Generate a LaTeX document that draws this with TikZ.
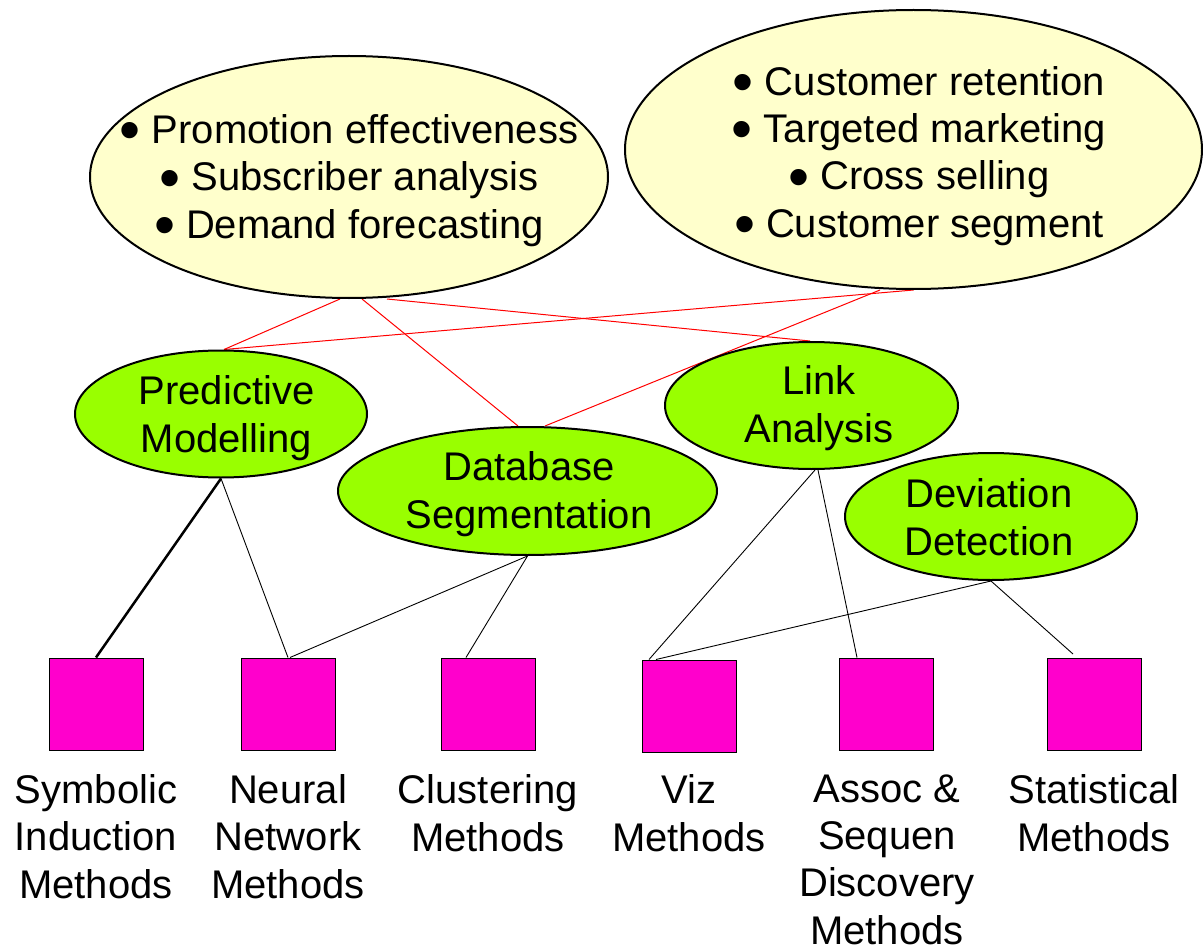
\documentclass[tikz,border=0pt]{standalone}
\usepackage{fontspec}
\setmainfont{Liberation Sans}
\usetikzlibrary{shapes.geometric,backgrounds}
\definecolor{lyellow}{HTML}{FFFFCC}
\definecolor{lgreen}{HTML}{99FF00}
\definecolor{mag}{HTML}{FF00CC}
\newcommand{\bul}{\smash{\raisebox{-7.5pt}{\scalebox{1.5}{•}}}\hspace{11pt}}
\begin{document}
\begin{tikzpicture}[x=1pt,y=-1pt,
  bigell/.style={ellipse, draw, line width=2pt, fill=lyellow, inner sep=0pt},
  smell/.style={ellipse, draw, line width=2pt, fill=lgreen, inner sep=0pt, minimum width=292pt, minimum height=127pt},
  sq/.style={rectangle, draw, line width=1pt, fill=mag, minimum width=94pt, minimum height=92pt, inner sep=0pt},
  txt/.style={font=\fontsize{40}{47.3}\selectfont, align=center, anchor=base, inner sep=0pt},
  redl/.style={draw=red, line width=1pt},
  blk/.style={draw=black, line width=0.9pt},
  blkthick/.style={draw=black, line width=2.5pt}]
\useasboundingbox (0,0) rectangle (1203,947);

% ellipses
\node[bigell, minimum width=518pt, minimum height=242pt] (tl) at (349,177) {};
\node[bigell, minimum width=577pt, minimum height=279pt] (tr) at (913.5,149.5) {};
\node[smell] (pm) at (221,414) {};
\node[smell, minimum width=379pt, minimum height=128pt] (db) at (527.5,491) {};
\node[smell, minimum width=293pt] (la) at (811.5,405.5) {};
\node[smell] (dd) at (991,516.5) {};

% texts in ellipses (anchor = baseline of last line)
\node[txt] (tlt) at (349,238) {\bul Promotion effectiveness\\\bul Subscriber analysis\\\bul Demand forecasting};
\node[txt] (trt) at (919,237) {\bul Customer retention\\\bul Targeted marketing\\\bul Cross selling\\\bul Customer segment};
\node[txt] (pmt) at (226.5,452) {Predictive\\Modelling};
\node[txt] (dbt) at (529,528) {Database\\Segmentation};
\node[txt] (lat) at (819,442) {Link\\Analysis};
\node[txt] (ddt) at (989,555) {Deviation\\Detection};

% squares
\node[sq] (s1) at (96,704) {};
\node[sq] (s2) at (288,704) {};
\node[sq] (s3) at (488,704) {};
\node[sq] (s4) at (689,706) {};
\node[sq] (s5) at (886.5,704) {};
\node[sq] (s6) at (1094,704) {};

% labels (anchor = baseline of last line)
\node[txt] (l1) at (96,898) {Symbolic\\Induction\\Methods};
\node[txt] (l2) at (288,898) {Neural\\Network\\Methods};
\node[txt] (l3) at (488,851) {Clustering\\Methods};
\node[txt] (l4) at (689,851) {Viz\\Methods};
\node[txt] (l5) at (887,944) {Assoc \&\\Sequen\\Discovery\\Methods};
\node[txt] (l6) at (1094,851) {Statistical\\Methods};

\coordinate (free) at (1073,654);

\begin{scope}[on background layer]
% red connectors
\draw[redl] ([xshift=-9pt]tl.south) -- ([xshift=3pt]pm.north);
\draw[redl] ([xshift=13pt]tl.south) -- ([xshift=-9.5pt]db.north);
\draw[redl] ([xshift=38pt]tl.south) -- ([xshift=-1.5pt]la.north);
\draw[redl] (tr.south) -- ([xshift=3pt]pm.north);
\draw[redl] ([xshift=-33.5pt]tr.south) -- ([xshift=17.5pt]db.north);
% black connectors
\draw[blkthick] (pm.south) -- (s1.north);
\draw[blk] (pm.south) -- (s2.north);
\draw[blk] (db.south) -- ([xshift=2pt]s2.north);
\draw[blk] (db.south) -- ([xshift=-22pt]s3.north);
\draw[blk] ([xshift=3.5pt]la.south) -- ([xshift=-40pt]s4.north);
\draw[blk] ([xshift=6.5pt]la.south) -- ([xshift=-29.5pt]s5.north);
\draw[blk] (dd.south) -- ([xshift=-33pt]s4.north);
\draw[blk] (dd.south) -- (free);
\end{scope}
\end{tikzpicture}
\end{document}
